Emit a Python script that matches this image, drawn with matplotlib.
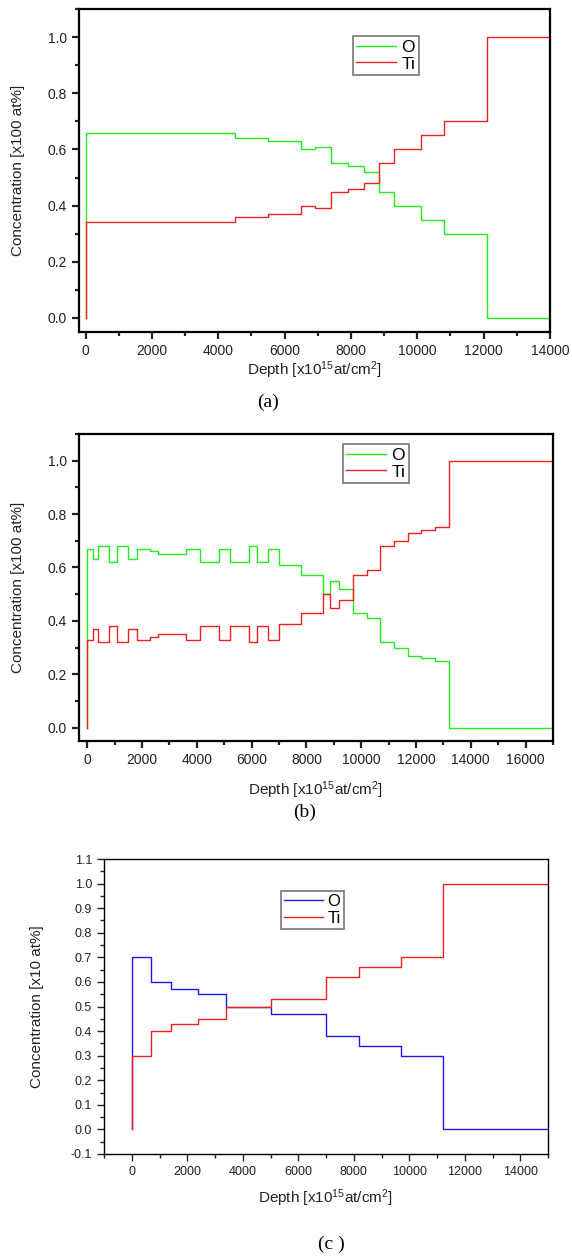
import matplotlib
matplotlib.use("Agg")
import matplotlib.pyplot as plt
from matplotlib.ticker import MultipleLocator

plt.rcParams['font.family'] = ['Liberation Sans', 'DejaVu Sans']
plt.rcParams['mathtext.default'] = 'regular'

# (a) layer boundaries [x10^15 at/cm2] and concentrations per layer
depth_a = [0, 4500, 5500, 6500, 6900, 7400, 7900, 8400, 8850, 9300, 10100, 10800, 12100, 14000]
o_a = [0.66, 0.64, 0.63, 0.60, 0.61, 0.55, 0.54, 0.52, 0.45, 0.40, 0.35, 0.30, 0.0]
ti_a = [0.34, 0.36, 0.37, 0.40, 0.39, 0.45, 0.46, 0.48, 0.55, 0.60, 0.65, 0.70, 1.0]

# (b)
depth_b = [0, 200, 400, 800, 1100, 1500, 1800, 2300, 2600, 3600, 4100, 4800, 5200, 5900,
           6200, 6600, 7000, 7800, 8600, 8870, 9200, 9700, 10200, 10700, 11200, 11700,
           12200, 12700, 13200, 17000]
o_b = [0.67, 0.63, 0.68, 0.62, 0.68, 0.63, 0.67, 0.66, 0.65, 0.67, 0.62, 0.67, 0.62, 0.68,
       0.62, 0.67, 0.61, 0.57, 0.50, 0.55, 0.52, 0.43, 0.41, 0.32, 0.30, 0.27, 0.26, 0.25, 0.0]
ti_b = [0.33, 0.37, 0.32, 0.38, 0.32, 0.37, 0.33, 0.34, 0.35, 0.33, 0.38, 0.33, 0.38, 0.32,
        0.38, 0.33, 0.39, 0.43, 0.50, 0.45, 0.48, 0.57, 0.59, 0.68, 0.70, 0.73, 0.74, 0.75, 1.0]

# (c)
depth_c = [0, 700, 1400, 2400, 3400, 5000, 7000, 8200, 9700, 11200, 15000]
o_c = [0.70, 0.60, 0.57, 0.55, 0.50, 0.47, 0.38, 0.34, 0.30, 0.0]
ti_c = [0.30, 0.40, 0.43, 0.45, 0.50, 0.53, 0.62, 0.66, 0.70, 1.0]


def profile(ax, edges, values, color, label):
    # surface starts at zero, then one flat step per layer
    x = [edges[0]] + list(edges)
    y = [0.0] + list(values) + [values[-1]]
    ax.step(x, y, where='post', color=color, lw=1.0, label=label)


fig = plt.figure(figsize=(5.72, 12.59), dpi=100)
W, H = 572.0, 1259.0


def make_axes(l, t, r, b):
    return fig.add_axes([l / W, 1 - b / H, (r - l) / W, (b - t) / H])


panels = [
    dict(box=(79, 9, 550, 332), edges=depth_a, o=o_a, ti=ti_a, o_col='#22ee22',
         xlim=(-200, 14000), ylim=(-0.05, 1.1), ymaj=0.2, ymin=0.1,
         ylabel='Concentration [x100 at%]', spine=1.6, fs=10, lfs=11, legfs=12.5,
         leg=(353, 36), cap='(a)', cap_xy=(268, 402), xl_y=370, yl_x=18),
    dict(box=(79, 434, 553, 741), edges=depth_b, o=o_b, ti=ti_b, o_col='#22ee22',
         xlim=(-300, 17000), ylim=(-0.05, 1.1), ymaj=0.2, ymin=0.1,
         ylabel='Concentration [x100 at%]', spine=1.6, fs=10, lfs=11, legfs=12.5,
         leg=(343, 444), cap='(b)', cap_xy=(305, 812), xl_y=790, yl_x=18),
    dict(box=(104, 859, 548, 1154), edges=depth_c, o=o_c, ti=ti_c, o_col='#1a1aee',
         xlim=(-1000, 15000), ylim=(-0.1, 1.1), ymaj=0.1, ymin=0.05,
         ylabel='Concentration [x10 at%]', spine=1.0, fs=9, lfs=11, legfs=12,
         leg=(281, 891), cap='(c )', cap_xy=(331, 1244), xl_y=1198, yl_x=37),
]

for p in panels:
    ax = make_axes(*p['box'])
    profile(ax, p['edges'], p['o'], p['o_col'], 'O')
    profile(ax, p['edges'], p['ti'], '#ee2020', 'Ti')
    ax.set_xlim(*p['xlim'])
    ax.set_ylim(*p['ylim'])
    ax.xaxis.set_major_locator(MultipleLocator(2000))
    ax.xaxis.set_minor_locator(MultipleLocator(1000))
    ax.yaxis.set_major_locator(MultipleLocator(p['ymaj']))
    ax.yaxis.set_minor_locator(MultipleLocator(p['ymin']))
    ax.yaxis.set_major_formatter(plt.FormatStrFormatter('%.1f'))
    for s in ax.spines.values():
        s.set_linewidth(p['spine'])
    ax.tick_params(which='both', direction='out', top=False, right=False,
                   labelsize=p['fs'], colors='#222222', width=p['spine'])
    ax.tick_params(which='major', length=5)
    ax.tick_params(which='minor', length=3)
    l, t, r, b = p['box']
    fig.text((l + r) / 2 / W, 1 - p['xl_y'] / H, 'Depth [x10$^{15}$at/cm$^{2}$]',
             ha='center', va='center', fontsize=p['lfs'], color='#222222')
    fig.text(p['yl_x'] / W, 1 - (t + b) / 2 / H, p['ylabel'], rotation=90,
             ha='center', va='center', fontsize=p['lfs'], color='#222222')
    fig.text(p['cap_xy'][0] / W, 1 - p['cap_xy'][1] / H, p['cap'],
             ha='center', va='center', fontsize=14, family='Liberation Serif')
    leg = ax.legend(loc='upper left', bbox_to_anchor=(p['leg'][0] / W, 1 - p['leg'][1] / H),
                    bbox_transform=fig.transFigure, fontsize=p['legfs'], frameon=True,
                    fancybox=False, edgecolor='#555555', handlelength=2.3,
                    borderpad=0.2, labelspacing=0.1, handletextpad=0.3, borderaxespad=0)
    leg.get_frame().set_linewidth(1.2)

fig.savefig('out.png', dpi=100)
